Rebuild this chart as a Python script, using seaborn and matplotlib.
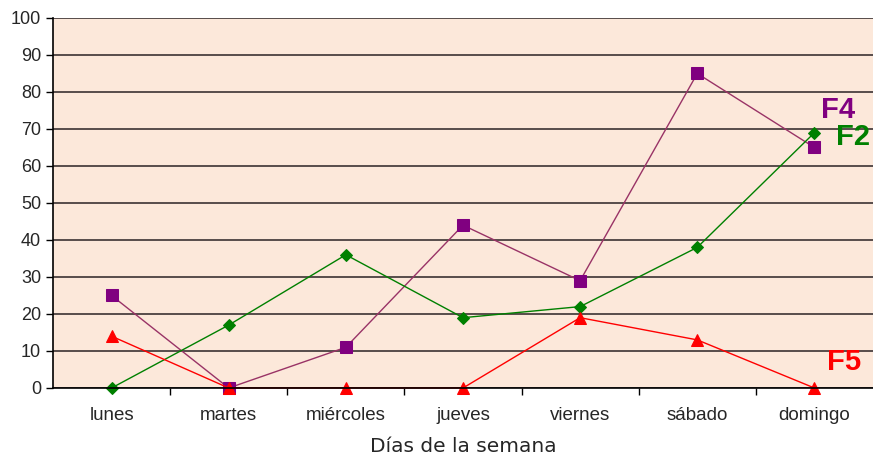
import pandas as pd
import seaborn as sns
import matplotlib.pyplot as plt

dias = ["lunes", "martes", "miércoles", "jueves", "viernes", "sábado", "domingo"]
f4 = [25, 0, 11, 44, 29, 85, 65]
f2 = [0, 17, 36, 19, 22, 38, 69]
f5 = [14, 0, 0, 0, 19, 13, 0]


def dias_semana_graph():
    df = pd.DataFrame({"x": range(len(dias)), "F4": f4, "F2": f2, "F5": f5})

    sns.set_style("white")
    plt.rcParams["font.family"] = ["Liberation Sans", "DejaVu Sans"]

    fig = plt.figure(figsize=(8.73, 4.59), dpi=100)
    ax = fig.add_axes([0.0607, 0.1547, 0.9393, 0.8061])
    ax.set_facecolor("#fce8da")

    for y in range(0, 101, 10):
        ax.axhline(y, color="#4a4040", lw=1.3, zorder=1)

    sns.lineplot(x="x", y="F4", data=df, color="#993366", lw=1, marker="s",
                 markersize=8, markerfacecolor="#800080", markeredgecolor="#800080",
                 errorbar=None, ax=ax, zorder=3, clip_on=False)
    sns.lineplot(x="x", y="F2", data=df, color="#008000", lw=1, marker="D",
                 markersize=6.5, markerfacecolor="#008000", markeredgecolor="#008000",
                 errorbar=None, ax=ax, zorder=3, clip_on=False)
    sns.lineplot(x="x", y="F5", data=df, color="#ff0000", lw=1, marker="^",
                 markersize=9, markerfacecolor="#ff0000", markeredgecolor="#ff0000",
                 errorbar=None, ax=ax, zorder=3, clip_on=False)

    ax.text(6.06, 75.0, "F4", color="#800080", fontsize=21, fontweight="bold", va="center")
    ax.text(6.18, 67.8, "F2", color="#008000", fontsize=21, fontweight="bold", va="center")
    ax.text(6.11, 7.0, "F5", color="#ff0000", fontsize=21, fontweight="bold", va="center")

    ax.set_xlim(-0.5, len(dias) - 0.5)
    ax.set_ylim(0, 100)
    ax.set_yticks(range(0, 101, 10))
    ax.tick_params(axis="y", labelsize=13, length=5, width=1, color="black", direction="out", left=True)

    # ticks between categories, labels centred
    ax.set_xticks([i + 0.5 for i in range(len(dias) - 1)])
    ax.set_xticklabels([])
    ax.tick_params(axis="x", which="major", length=5, width=1, color="black", direction="out", bottom=True)
    ax.set_xticks(range(len(dias)), minor=True)
    ax.set_xticklabels(dias, minor=True, fontsize=13.5)
    ax.tick_params(axis="x", which="minor", length=0, pad=14)

    ax.set_xlabel("Días de la semana", fontsize=14.5, family="DejaVu Sans", labelpad=9)
    ax.set_ylabel("")

    sns.despine(ax=ax, top=True, right=True)
    ax.spines["left"].set_color("black")
    ax.spines["bottom"].set_color("black")
    ax.spines["left"].set_linewidth(1.2)
    ax.spines["bottom"].set_linewidth(1.2)
    for sp in ["left", "bottom"]:
        ax.spines[sp].set_zorder(4)

    fig.savefig("out.png", dpi=100)


def main():
    dias_semana_graph()


if (__name__ == '__main__'):
    main()
